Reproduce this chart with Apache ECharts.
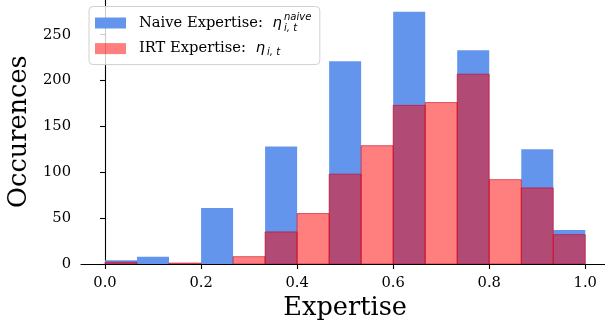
<!DOCTYPE html>
<html>
<head>
<meta charset="utf-8">
<script src="https://cdn.jsdelivr.net/npm/echarts@6/dist/echarts.min.js"></script>
<style>html,body{margin:0;padding:0;background:#fff}#c{width:605px;height:326px}</style>
</head>
<body>
<div id="c"></div>
<script>
// Histogram bin edges (15 equal bins on [0, 1])
const binEdges = [0, 0.0667, 0.1333, 0.2, 0.2667, 0.3333, 0.4, 0.4667, 0.5333, 0.6, 0.6667, 0.7333, 0.8, 0.8667, 0.9333, 1.0];
// Counts per bin
const naiveCounts = [4, 8, 0, 61, 0, 128, 0, 221, 0, 275, 0, 233, 0, 125, 37];
const irtCounts   = [2, 0, 1, 0, 8, 35, 55, 98, 129, 173, 176, 207, 92, 83, 32];
// Tick values
const xTicks = [0, 0.2, 0.4, 0.6, 0.8, 1.0];
const seriesNames = ['Naive Expertise', 'IRT Expertise'];

function toBins(counts) {
  const out = [];
  for (let i = 0; i < counts.length; i++) {
    if (counts[i] > 0) out.push([binEdges[i], binEdges[i + 1], counts[i]]);
  }
  return out;
}

function makeRender(fill, stroke) {
  return function (params, api) {
    const p0 = api.coord([api.value(0), api.value(2)]);
    const p1 = api.coord([api.value(1), 0]);
    return {
      type: 'rect',
      shape: { x: p0[0], y: p0[1], width: p1[0] - p0[0], height: p1[1] - p0[1] },
      style: { fill: fill, stroke: stroke, lineWidth: stroke ? 1 : 0 }
    };
  };
}

const serif = 'DejaVu Serif';
const fs = 14.7;
const chart = echarts.init(document.getElementById('c'), null, { renderer: 'canvas' });
chart.setOption({
  animation: false,
  grid: { left: 81, width: 528.3, top: -0.8, bottom: 62, containLabel: false, outerBoundsMode: 'none' },
  xAxis: {
    type: 'value', min: -0.05, max: 1.05,
    name: 'Expertise', nameLocation: 'middle', nameGap: 30.5,
    nameTextStyle: { fontFamily: serif, fontSize: 25.6, color: '#000' },
    axisLine: { show: true, lineStyle: { color: '#000', width: 1.1 } },
    axisTick: { show: true, length: 5, customValues: xTicks, lineStyle: { color: '#000', width: 1.1 } },
    axisLabel: { customValues: xTicks, margin: 11.5, fontFamily: serif, fontSize: fs, color: '#000',
      formatter: v => v.toFixed(1) },
    splitLine: { show: false }
  },
  yAxis: {
    type: 'value', min: 0, max: 288.75, interval: 50,
    name: 'Occurences', nameLocation: 'middle', nameGap: 44,
    nameTextStyle: { fontFamily: serif, fontSize: 25.6, color: '#000' },
    axisLine: { show: true, lineStyle: { color: '#000', width: 1.1 } },
    axisTick: { show: true, length: 5, lineStyle: { color: '#000', width: 1.1 } },
    axisLabel: { margin: 10, fontFamily: serif, fontSize: fs, color: '#000',
      showMaxLabel: false },
    splitLine: { show: false }
  },
  legend: {
    orient: 'vertical', left: 89, top: 6.5,
    padding: [6.5, 37, 6, 6],
    itemWidth: 31, itemHeight: 11, itemGap: 5.6,
    backgroundColor: 'rgba(255,255,255,0.8)', borderColor: '#d0d0d0', borderWidth: 1, borderRadius: 4,
    data: [
      { name: seriesNames[0], icon: 'rect', itemStyle: { color: '#6495ED', borderWidth: 0 } },
      { name: seriesNames[1], icon: 'rect', itemStyle: { color: 'rgba(255,0,0,0.5)', borderWidth: 0 } }
    ],
    formatter: function (name) {
      return '{g|}{t|' + name + ': }{eta|η}{s|}';
    },
    textStyle: {
      fontFamily: serif, fontSize: fs, color: '#000', lineHeight: 20,
      rich: {
        g: { width: 8 },
        t: { fontFamily: serif, fontSize: fs, color: '#000' },
        eta: { fontFamily: 'DejaVu Sans', fontStyle: 'italic', fontSize: fs, color: '#000', padding: [0, 0, 0, 5] },
        s: { width: 1 }
      }
    }
  },
  graphic: [
    { type: 'text', style: { x: 284, y: 17.5, text: 'naive', font: 'italic 10px "DejaVu Sans"', fill: '#000', textVerticalAlign: 'middle' }, z: 100 },
    { type: 'text', style: { x: 284, y: 28.5, text: 'i, t', font: 'italic 10px "DejaVu Sans"', fill: '#000', textVerticalAlign: 'middle' }, z: 100 },
    { type: 'text', style: { x: 267, y: 52.5, text: 'i, t', font: 'italic 10px "DejaVu Sans"', fill: '#000', textVerticalAlign: 'middle' }, z: 100 }
  ],
  series: [
    {
      name: seriesNames[0], type: 'custom', data: toBins(naiveCounts),
      renderItem: makeRender('#6495ED', null), itemStyle: { color: '#6495ED' },
      encode: { x: [0, 1], y: 2 }, clip: true
    },
    {
      name: seriesNames[1], type: 'custom', data: toBins(irtCounts),
      renderItem: makeRender('rgba(255,0,0,0.5)', 'rgba(200,0,30,0.6)'), itemStyle: { color: 'rgba(255,0,0,0.5)' },
      encode: { x: [0, 1], y: 2 }, clip: true
    }
  ]
});
</script>
</body>
</html>
